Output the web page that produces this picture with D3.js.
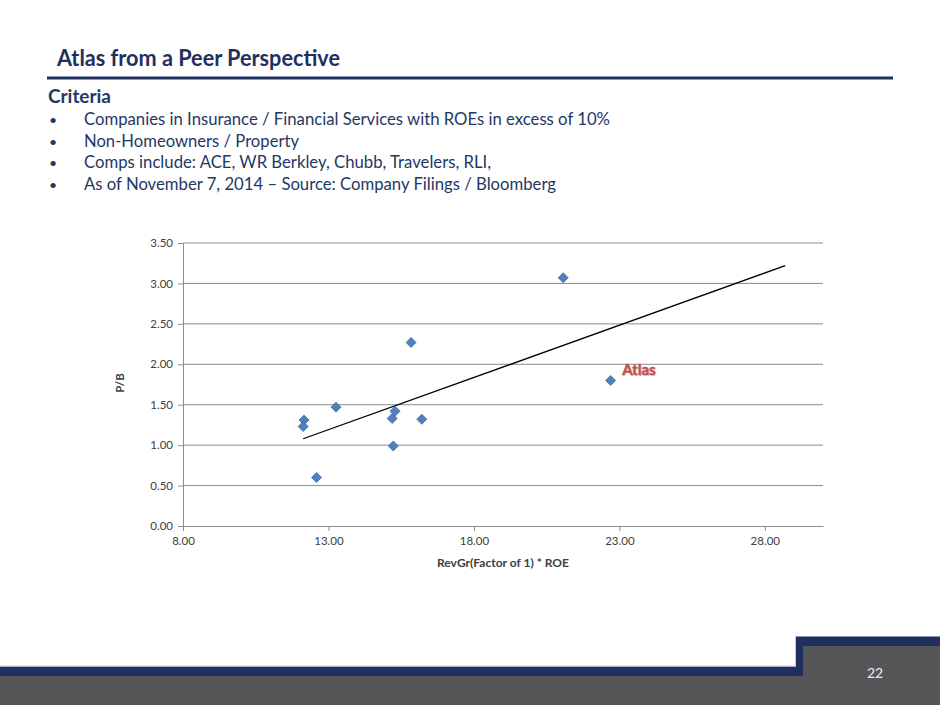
<!DOCTYPE html>
<html>
<head>
<meta charset="utf-8">
<script src="https://cdn.jsdelivr.net/npm/d3@7"></script>
<style>
  body { margin: 0; background: #fff; }
  svg { display: block; font-family: Lato, "Open Sans", sans-serif; }
</style>
</head>
<body>
<script>
// peers: RevGr(Factor of 1) * ROE vs P/B
var peerX = [12.16, 12.13, 12.59, 13.26, 15.19, 15.29, 15.23, 15.84, 16.21, 21.07, 22.70];
var peerY = [1.31, 1.23, 0.60, 1.47, 1.33, 1.42, 0.99, 2.27, 1.32, 3.07, 1.80];
var peerLabels = ["", "", "", "", "", "", "", "", "", "", "Atlas"];
var xTicks = [8, 13, 18, 23, 28];
var yTicks = [0, 0.5, 1, 1.5, 2, 2.5, 3, 3.5];
var trendForward = 6;

var bullets = [
    "Companies in Insurance / Financial Services with ROEs in excess of 10%",
    "Non-Homeowners / Property",
    "Comps include: ACE, WR Berkley, Chubb, Travelers, RLI,",
    "As of November 7, 2014 \u2013 Source: Company Filings / Bloomberg"
];
var bulletWidths = [526, 215, 407, 472];

var navy = "#1f3060", textNavy = "#1f3864", footGray = "#565658";

var svg = d3.select("body").append("svg")
    .attr("width", 940)
    .attr("height", 705);

// header
svg.append("text")
    .attr("x", 57).attr("y", 66)
    .attr("textLength", 283).attr("lengthAdjust", "spacingAndGlyphs")
    .style("font-size", "23.5px").style("font-weight", "bold")
    .style("fill", navy)
    .text("Atlas from a Peer Perspective");
svg.append("rect")
    .attr("x", 47).attr("y", 76.5).attr("width", 846).attr("height", 3)
    .style("fill", navy);

svg.append("text")
    .attr("x", 48).attr("y", 103)
    .attr("textLength", 63).attr("lengthAdjust", "spacingAndGlyphs")
    .style("font-size", "19px").style("font-weight", "bold")
    .style("fill", textNavy)
    .text("Criteria");

bullets.forEach(function(b, i) {
    var y = 125 + i * 21.6;
    svg.append("text")
        .attr("x", 49).attr("y", y)
        .style("font-size", "14px").style("fill", textNavy)
        .text("\u2022");
    svg.append("text")
        .attr("x", 84).attr("y", y)
        .attr("textLength", bulletWidths[i]).attr("lengthAdjust", "spacingAndGlyphs")
        .style("font-size", "16.5px").style("fill", textNavy)
        .text(b);
});

// chart
var x = d3.scaleLinear().domain([8, 30]).range([183, 823]);
var y = d3.scaleLinear().domain([0, 3.5]).range([526, 243]);

var grid = svg.append("g");
grid.selectAll("line").data(yTicks.slice(1)).enter().append("line")
    .attr("x1", 183).attr("x2", 823)
    .attr("y1", function(d) { return y(d); })
    .attr("y2", function(d) { return y(d); })
    .style("stroke", "#8c8c8c").style("stroke-width", 1);

var yAxis = svg.append("g")
    .attr("transform", "translate(183,0)")
    .call(d3.axisLeft(y).tickValues(yTicks).tickFormat(d3.format(".2f")).tickSizeInner(5).tickSizeOuter(0));
var xAxis = svg.append("g")
    .attr("transform", "translate(0,526)")
    .call(d3.axisBottom(x).tickValues(xTicks).tickFormat(d3.format(".2f")).tickSizeInner(5).tickSizeOuter(0));

[xAxis, yAxis].forEach(function(a) {
    a.select(".domain").style("stroke", "#8c8c8c");
    a.selectAll(".tick line").style("stroke", "#8c8c8c");
    a.selectAll(".tick text")
        .style("font-family", "Lato, sans-serif")
        .style("font-size", "11.5px").style("fill", "#404040");
});
yAxis.selectAll(".tick text").attr("x", -10);
xAxis.selectAll(".tick text").attr("y", 11);

svg.append("text")
    .attr("transform", "translate(124,383) rotate(-90)")
    .attr("text-anchor", "middle")
    .style("font-size", "11.5px").style("font-weight", "bold").style("fill", "#404040")
    .text("P/B");
svg.append("text")
    .attr("x", 503).attr("y", 567)
    .attr("text-anchor", "middle")
    .attr("textLength", 132).attr("lengthAdjust", "spacingAndGlyphs")
    .style("font-size", "11.5px").style("font-weight", "bold").style("fill", "#404040")
    .text("RevGr(Factor of 1) * ROE");

// linear trendline (least squares), forward forecast
var mx = d3.mean(peerX), my = d3.mean(peerY);
var sxy = d3.sum(peerX, function(d, i) { return (d - mx) * (peerY[i] - my); });
var sxx = d3.sum(peerX, function(d) { return (d - mx) * (d - mx); });
var slope = sxy / sxx, icpt = my - slope * mx;
var tx0 = d3.min(peerX), tx1 = d3.max(peerX) + trendForward;
svg.append("line")
    .attr("x1", x(tx0)).attr("y1", y(icpt + slope * tx0))
    .attr("x2", x(tx1)).attr("y2", y(icpt + slope * tx1))
    .style("stroke", "#000").style("stroke-width", 1.3);

var pts = peerX.map(function(d, i) { return { x: d, y: peerY[i], label: peerLabels[i] }; });
svg.selectAll(".pt").data(pts).enter().append("path")
    .attr("class", "pt")
    .attr("d", "M0,-5L5,0L0,5L-5,0Z")
    .attr("transform", function(d) { return "translate(" + x(d.x) + "," + y(d.y) + ")"; })
    .style("fill", "#4f81bd").style("stroke", "#3d6aa3").style("stroke-width", 0.8);

var labeled = pts.filter(function(d) { return d.label; });
svg.selectAll(".lblshadow").data(labeled).enter().append("text")
    .attr("x", function(d) { return x(d.x) + 12.5; })
    .attr("y", function(d) { return y(d.y) - 4; })
    .style("font-size", "15px").style("font-weight", "bold")
    .style("fill", "#c8c8c8")
    .text(function(d) { return d.label; });
svg.selectAll(".lbl").data(labeled).enter().append("text")
    .attr("x", function(d) { return x(d.x) + 11.5; })
    .attr("y", function(d) { return y(d.y) - 5; })
    .style("font-size", "15px").style("font-weight", "bold")
    .style("fill", "#c0504d").style("stroke", "#c0504d").style("stroke-width", 0.4)
    .text(function(d) { return d.label; });

// footer band
svg.append("rect").attr("x", 0).attr("y", 676).attr("width", 940).attr("height", 29).style("fill", footGray);
svg.append("rect").attr("x", 803).attr("y", 646).attr("width", 137).attr("height", 40).style("fill", footGray);
svg.append("path")
    .attr("d", "M0,666.5H796V636.5H940V646H803V676H0Z")
    .style("fill", navy);
svg.append("path")
    .attr("d", "M0,666H795.5V636")
    .style("fill", "none").style("stroke", "#c9ccd3").style("stroke-width", 1);
svg.append("text")
    .attr("x", 875).attr("y", 678)
    .attr("text-anchor", "middle")
    .style("font-size", "14px").style("fill", "#eeeeee")
    .text("22");
</script>
</body>
</html>
